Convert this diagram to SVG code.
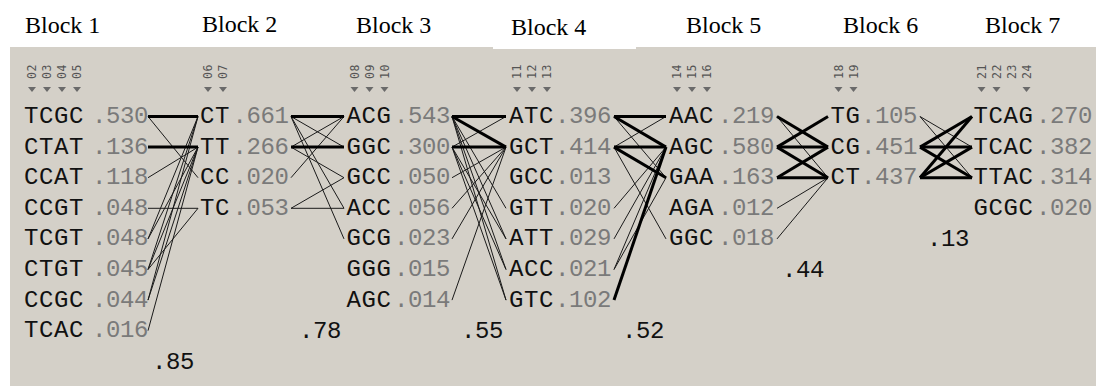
<svg xmlns="http://www.w3.org/2000/svg" width="1096" height="386" viewBox="0 0 1096 386">
  <style>
    .ttl { font-family: "Liberation Serif", "Times New Roman", serif; font-size: 24px; fill: #000; }
    .hap { font-family: "Liberation Mono", "DejaVu Sans Mono", monospace; font-size: 24px; letter-spacing: 0.6px; fill: #111; }
    .frq { font-family: "Liberation Mono", "DejaVu Sans Mono", monospace; font-size: 24px; letter-spacing: -0.4px; fill: #7a7a7a; }
    .dp  { font-family: "Liberation Mono", "DejaVu Sans Mono", monospace; font-size: 24px; letter-spacing: -0.4px; fill: #111; }
    .mk  { font-family: "DejaVu Sans Mono", "Liberation Mono", monospace; font-size: 11.5px; letter-spacing: 0.6px; fill: #555; }
    .tri { fill: #6a6a6a; }
    .thk { stroke: #000; stroke-width: 3; fill: none; }
    .thn { stroke: #1a1a1a; stroke-width: 1; fill: none; }
  </style>

  <!-- panel background -->
  <rect x="0" y="0" width="1096" height="386" fill="#fff"/>
  <rect x="10" y="47" width="1086" height="339" fill="#d4d0c8"/>
  <rect x="493" y="0" width="143" height="49" fill="#fff"/>

  <!-- block titles -->
  <g id="titles">
    <text class="ttl" x="25" y="33">Block 1</text>
    <text class="ttl" x="202" y="32">Block 2</text>
    <text class="ttl" x="356" y="33">Block 3</text>
    <text class="ttl" x="511" y="35">Block 4</text>
    <text class="ttl" x="686" y="33">Block 5</text>
    <text class="ttl" x="843" y="33">Block 6</text>
    <text class="ttl" x="985" y="33">Block 7</text>
  </g>

  <!-- marker numbers and tag triangles -->
  <g id="markers">
    <text class="mk" transform="translate(36,79) rotate(-90)">02</text>
    <text class="mk" transform="translate(51,79) rotate(-90)">03</text>
    <text class="mk" transform="translate(66,79) rotate(-90)">04</text>
    <text class="mk" transform="translate(81,79) rotate(-90)">05</text>
    <polygon class="tri" points="28,87 36,87 32,92"/>
    <polygon class="tri" points="43,87 51,87 47,92"/>
    <polygon class="tri" points="58,87 66,87 62,92"/>
    <polygon class="tri" points="73,87 81,87 77,92"/>

    <text class="mk" transform="translate(212,79) rotate(-90)">06</text>
    <text class="mk" transform="translate(227,79) rotate(-90)">07</text>
    <polygon class="tri" points="204,87 212,87 208,92"/>
    <polygon class="tri" points="219,87 227,87 223,92"/>

    <text class="mk" transform="translate(358.5,79) rotate(-90)">08</text>
    <text class="mk" transform="translate(373.5,79) rotate(-90)">09</text>
    <text class="mk" transform="translate(388.5,79) rotate(-90)">10</text>
    <polygon class="tri" points="350.5,87 358.5,87 354.5,92"/>
    <polygon class="tri" points="365.5,87 373.5,87 369.5,92"/>
    <polygon class="tri" points="380.5,87 388.5,87 384.5,92"/>

    <text class="mk" transform="translate(521,79) rotate(-90)">11</text>
    <text class="mk" transform="translate(536,79) rotate(-90)">12</text>
    <text class="mk" transform="translate(551,79) rotate(-90)">13</text>
    <polygon class="tri" points="513,87 521,87 517,92"/>
    <polygon class="tri" points="528,87 536,87 532,92"/>
    <polygon class="tri" points="543,87 551,87 547,92"/>

    <text class="mk" transform="translate(681,79) rotate(-90)">14</text>
    <text class="mk" transform="translate(696,79) rotate(-90)">15</text>
    <text class="mk" transform="translate(711,79) rotate(-90)">16</text>
    <polygon class="tri" points="673,87 681,87 677,92"/>
    <polygon class="tri" points="688,87 696,87 692,92"/>
    <polygon class="tri" points="703,87 711,87 707,92"/>

    <text class="mk" transform="translate(842.5,79) rotate(-90)">18</text>
    <text class="mk" transform="translate(857.5,79) rotate(-90)">19</text>
    <polygon class="tri" points="834.5,87 842.5,87 838.5,92"/>
    <polygon class="tri" points="849.5,87 857.5,87 853.5,92"/>

    <text class="mk" transform="translate(985.5,79) rotate(-90)">21</text>
    <text class="mk" transform="translate(1000.5,79) rotate(-90)">22</text>
    <text class="mk" transform="translate(1015.5,79) rotate(-90)">23</text>
    <text class="mk" transform="translate(1030.5,79) rotate(-90)">24</text>
    <polygon class="tri" points="977.5,87 985.5,87 981.5,92"/>
    <polygon class="tri" points="992.5,87 1000.5,87 996.5,92"/>
    <polygon class="tri" points="1022.5,87 1030.5,87 1026.5,92"/>
  </g>

  <!-- connectors between haplotypes of adjacent blocks -->
  <g id="connectors">
    <!-- block 1 to block 2 -->
    <line class="thn" x1="148" y1="116.5" x2="198" y2="177.7"/>
    <line class="thn" x1="148" y1="177.7" x2="198" y2="147.1"/>
    <line class="thn" x1="148" y1="208.3" x2="198" y2="208.3"/>
    <line class="thn" x1="148" y1="238.9" x2="198" y2="116.5"/>
    <line class="thn" x1="148" y1="238.9" x2="198" y2="147.1"/>
    <line class="thn" x1="148" y1="269.5" x2="198" y2="116.5"/>
    <line class="thn" x1="148" y1="269.5" x2="198" y2="147.1"/>
    <line class="thn" x1="148" y1="269.5" x2="198" y2="208.3"/>
    <line class="thn" x1="148" y1="300.1" x2="198" y2="116.5"/>
    <line class="thn" x1="148" y1="300.1" x2="198" y2="147.1"/>
    <line class="thn" x1="148" y1="330.7" x2="198" y2="147.1"/>
    <line class="thk" x1="148" y1="116.5" x2="198" y2="116.5"/>
    <line class="thk" x1="148" y1="147.1" x2="198" y2="147.1"/>

    <!-- block 2 to block 3 -->
    <line class="thn" x1="291" y1="116.5" x2="344" y2="147.1"/>
    <line class="thn" x1="291" y1="147.1" x2="344" y2="116.5"/>
    <line class="thn" x1="291" y1="116.5" x2="344" y2="208.3"/>
    <line class="thn" x1="291" y1="116.5" x2="344" y2="238.9"/>
    <line class="thn" x1="291" y1="147.1" x2="344" y2="177.7"/>
    <line class="thn" x1="291" y1="177.7" x2="344" y2="116.5"/>
    <line class="thn" x1="291" y1="208.3" x2="344" y2="177.7"/>
    <line class="thn" x1="291" y1="208.3" x2="344" y2="208.3"/>
    <line class="thk" x1="291" y1="116.5" x2="344" y2="116.5"/>
    <line class="thk" x1="291" y1="147.1" x2="344" y2="147.1"/>

    <!-- block 3 to block 4 -->
    <line class="thn" x1="452" y1="147.1" x2="506" y2="116.5"/>
    <line class="thn" x1="452" y1="177.7" x2="506" y2="147.1"/>
    <line class="thn" x1="452" y1="208.3" x2="506" y2="147.1"/>
    <line class="thn" x1="452" y1="238.9" x2="506" y2="147.1"/>
    <line class="thn" x1="452" y1="300.1" x2="506" y2="147.1"/>
    <line class="thn" x1="452" y1="116.5" x2="506" y2="208.3"/>
    <line class="thn" x1="452" y1="116.5" x2="506" y2="238.9"/>
    <line class="thn" x1="452" y1="147.1" x2="506" y2="238.9"/>
    <line class="thn" x1="452" y1="116.5" x2="506" y2="269.5"/>
    <line class="thn" x1="452" y1="147.1" x2="506" y2="269.5"/>
    <line class="thn" x1="452" y1="116.5" x2="506" y2="300.1"/>
    <line class="thn" x1="452" y1="147.1" x2="506" y2="300.1"/>
    <line class="thk" x1="452" y1="116.5" x2="506" y2="116.5"/>
    <line class="thk" x1="452" y1="116.5" x2="506" y2="147.1"/>
    <line class="thk" x1="452" y1="147.1" x2="506" y2="147.1"/>

    <!-- block 4 to block 5 -->
    <line class="thn" x1="614" y1="147.1" x2="666" y2="116.5"/>
    <line class="thn" x1="614" y1="116.5" x2="666" y2="177.7"/>
    <line class="thn" x1="614" y1="208.3" x2="666" y2="147.1"/>
    <line class="thn" x1="614" y1="238.9" x2="666" y2="147.1"/>
    <line class="thn" x1="614" y1="269.5" x2="666" y2="147.1"/>
    <line class="thn" x1="614" y1="269.5" x2="666" y2="177.7"/>
    <line class="thn" x1="614" y1="147.1" x2="666" y2="238.9"/>
    <line class="thk" x1="614" y1="116.5" x2="666" y2="116.5"/>
    <line class="thk" x1="614" y1="116.5" x2="666" y2="147.1"/>
    <line class="thk" x1="614" y1="147.1" x2="666" y2="147.1"/>
    <line class="thk" x1="614" y1="147.1" x2="666" y2="177.7"/>
    <line class="thk" x1="614" y1="300.1" x2="666" y2="147.1"/>

    <!-- block 5 to block 6 -->
    <line class="thn" x1="777" y1="116.5" x2="828" y2="177.7"/>
    <line class="thn" x1="777" y1="208.3" x2="828" y2="177.7"/>
    <line class="thn" x1="777" y1="238.9" x2="828" y2="177.7"/>
    <line class="thk" x1="777" y1="116.5" x2="828" y2="147.1"/>
    <line class="thk" x1="777" y1="147.1" x2="828" y2="116.5"/>
    <line class="thk" x1="777" y1="147.1" x2="828" y2="147.1"/>
    <line class="thk" x1="777" y1="147.1" x2="828" y2="177.7"/>
    <line class="thk" x1="777" y1="177.7" x2="828" y2="147.1"/>
    <line class="thk" x1="777" y1="177.7" x2="828" y2="177.7"/>

    <!-- block 6 to block 7 -->
    <line class="thn" x1="920" y1="116.5" x2="972" y2="147.1"/>
    <line class="thn" x1="920" y1="116.5" x2="972" y2="177.7"/>
    <line class="thk" x1="920" y1="147.1" x2="972" y2="116.5"/>
    <line class="thk" x1="920" y1="177.7" x2="972" y2="116.5"/>
    <line class="thk" x1="920" y1="147.1" x2="972" y2="147.1"/>
    <line class="thk" x1="920" y1="177.7" x2="972" y2="147.1"/>
    <line class="thk" x1="920" y1="147.1" x2="972" y2="177.7"/>
    <line class="thk" x1="920" y1="177.7" x2="972" y2="177.7"/>
  </g>

  <!-- block 1 haplotypes -->
  <g id="b1h0"><text class="hap" x="24" y="123">TCGC</text><text class="frq" x="92" y="123">.530</text></g>
  <g id="b1h1"><text class="hap" x="24" y="153.6">CTAT</text><text class="frq" x="92" y="153.6">.136</text></g>
  <g id="b1h2"><text class="hap" x="24" y="184.2">CCAT</text><text class="frq" x="92" y="184.2">.118</text></g>
  <g id="b1h3"><text class="hap" x="24" y="214.8">CCGT</text><text class="frq" x="92" y="214.8">.048</text></g>
  <g id="b1h4"><text class="hap" x="24" y="245.4">TCGT</text><text class="frq" x="92" y="245.4">.048</text></g>
  <g id="b1h5"><text class="hap" x="24" y="276">CTGT</text><text class="frq" x="92" y="276">.045</text></g>
  <g id="b1h6"><text class="hap" x="24" y="306.6">CCGC</text><text class="frq" x="92" y="306.6">.044</text></g>
  <g id="b1h7"><text class="hap" x="24" y="337.2">TCAC</text><text class="frq" x="92" y="337.2">.016</text></g>

  <!-- block 2 haplotypes -->
  <g id="b2h0"><text class="hap" x="200" y="123">CT</text><text class="frq" x="232.5" y="123">.661</text></g>
  <g id="b2h1"><text class="hap" x="200" y="153.6">TT</text><text class="frq" x="232.5" y="153.6">.266</text></g>
  <g id="b2h2"><text class="hap" x="200" y="184.2">CC</text><text class="frq" x="232.5" y="184.2">.020</text></g>
  <g id="b2h3"><text class="hap" x="200" y="214.8">TC</text><text class="frq" x="232.5" y="214.8">.053</text></g>

  <!-- block 3 haplotypes -->
  <g id="b3h0"><text class="hap" x="346.5" y="123">ACG</text><text class="frq" x="394" y="123">.543</text></g>
  <g id="b3h1"><text class="hap" x="346.5" y="153.6">GGC</text><text class="frq" x="394" y="153.6">.300</text></g>
  <g id="b3h2"><text class="hap" x="346.5" y="184.2">GCC</text><text class="frq" x="394" y="184.2">.050</text></g>
  <g id="b3h3"><text class="hap" x="346.5" y="214.8">ACC</text><text class="frq" x="394" y="214.8">.056</text></g>
  <g id="b3h4"><text class="hap" x="346.5" y="245.4">GCG</text><text class="frq" x="394" y="245.4">.023</text></g>
  <g id="b3h5"><text class="hap" x="346.5" y="276">GGG</text><text class="frq" x="394" y="276">.015</text></g>
  <g id="b3h6"><text class="hap" x="346.5" y="306.6">AGC</text><text class="frq" x="394" y="306.6">.014</text></g>

  <!-- block 4 haplotypes -->
  <g id="b4h0"><text class="hap" x="509" y="123">ATC</text><text class="frq" x="555" y="123">.396</text></g>
  <g id="b4h1"><text class="hap" x="509" y="153.6">GCT</text><text class="frq" x="555" y="153.6">.414</text></g>
  <g id="b4h2"><text class="hap" x="509" y="184.2">GCC</text><text class="frq" x="555" y="184.2">.013</text></g>
  <g id="b4h3"><text class="hap" x="509" y="214.8">GTT</text><text class="frq" x="555" y="214.8">.020</text></g>
  <g id="b4h4"><text class="hap" x="509" y="245.4">ATT</text><text class="frq" x="555" y="245.4">.029</text></g>
  <g id="b4h5"><text class="hap" x="509" y="276">ACC</text><text class="frq" x="555" y="276">.021</text></g>
  <g id="b4h6"><text class="hap" x="509" y="306.6">GTC</text><text class="frq" x="555" y="306.6">.102</text></g>

  <!-- block 5 haplotypes -->
  <g id="b5h0"><text class="hap" x="669" y="123">AAC</text><text class="frq" x="718" y="123">.219</text></g>
  <g id="b5h1"><text class="hap" x="669" y="153.6">AGC</text><text class="frq" x="718" y="153.6">.580</text></g>
  <g id="b5h2"><text class="hap" x="669" y="184.2">GAA</text><text class="frq" x="718" y="184.2">.163</text></g>
  <g id="b5h3"><text class="hap" x="669" y="214.8">AGA</text><text class="frq" x="718" y="214.8">.012</text></g>
  <g id="b5h4"><text class="hap" x="669" y="245.4">GGC</text><text class="frq" x="718" y="245.4">.018</text></g>

  <!-- block 6 haplotypes -->
  <g id="b6h0"><text class="hap" x="830.5" y="123">TG</text><text class="frq" x="861" y="123">.105</text></g>
  <g id="b6h1"><text class="hap" x="830.5" y="153.6">CG</text><text class="frq" x="861" y="153.6">.451</text></g>
  <g id="b6h2"><text class="hap" x="830.5" y="184.2">CT</text><text class="frq" x="861" y="184.2">.437</text></g>

  <!-- block 7 haplotypes -->
  <g id="b7h0"><text class="hap" x="973.5" y="123">TCAG</text><text class="frq" x="1036" y="123">.270</text></g>
  <g id="b7h1"><text class="hap" x="973.5" y="153.6">TCAC</text><text class="frq" x="1036" y="153.6">.382</text></g>
  <g id="b7h2"><text class="hap" x="973.5" y="184.2">TTAC</text><text class="frq" x="1036" y="184.2">.314</text></g>
  <g id="b7h3"><text class="hap" x="973.5" y="214.8">GCGC</text><text class="frq" x="1036" y="214.8">.020</text></g>

  <!-- multiallelic D' between blocks -->
  <g id="dprime">
    <text class="dp" x="152" y="369">.85</text>
    <text class="dp" x="299" y="337.5">.78</text>
    <text class="dp" x="461" y="337.5">.55</text>
    <text class="dp" x="622" y="338">.52</text>
    <text class="dp" x="782" y="277">.44</text>
    <text class="dp" x="927" y="246">.13</text>
  </g>
</svg>
